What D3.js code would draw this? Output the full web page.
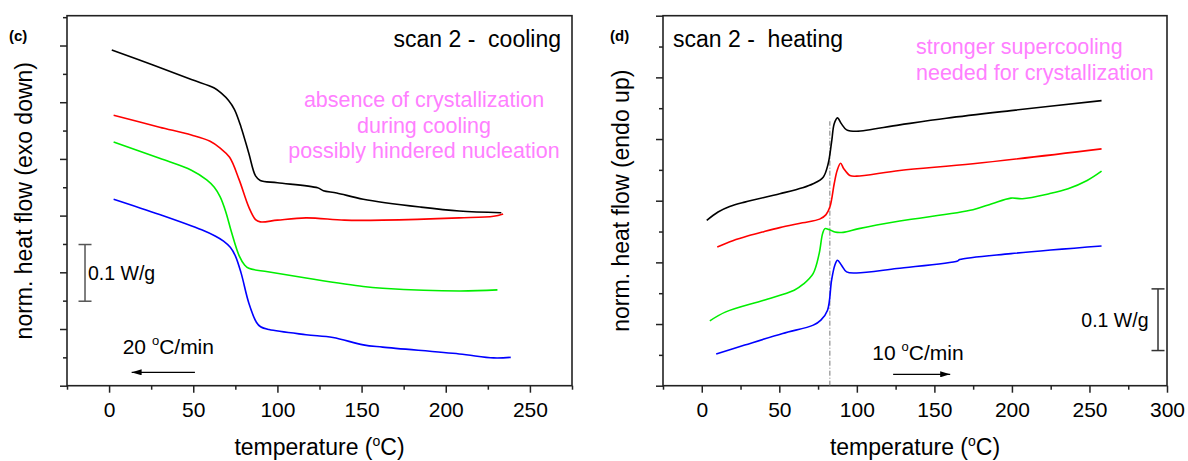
<!DOCTYPE html>
<html>
<head>
<meta charset="utf-8">
<script src="https://cdn.jsdelivr.net/npm/d3@7/dist/d3.min.js"></script>
<style>
  body { margin: 0; background: #fff; }
  svg { display: block; font-family: Arial, "Liberation Sans", sans-serif; }
</style>
</head>
<body>
<svg id="chart" width="1188" height="461"></svg>
<script>
// ---- (c) scan 2, cooling at 20 °C/min : [temperature °C, heat flow W/g] ----
const coolBlack = [[1.6,0.592],[26.1,0.5655],[48.9,0.540],[62.5,0.525],[67,0.515],[71,0.503],[74.5,0.487],[78.4,0.456],[83,0.410],[87,0.370],[89.8,0.362],[100,0.358],[123.9,0.349],[127.3,0.344],[135.2,0.340],[151,0.329],[185.2,0.315],[208,0.308],[233,0.305]];
const coolRed   = [[2.7,0.477],[30,0.456],[48.9,0.442],[60,0.431],[66,0.419],[71.6,0.403],[77.3,0.363],[83,0.315],[87,0.293],[89.8,0.289],[100,0.292],[117,0.296],[139.8,0.292],[162.5,0.292],[208,0.296],[228.4,0.299],[234.1,0.303]];
const coolGreen = [[2.7,0.430],[30,0.401],[48.9,0.380],[58,0.363],[62.5,0.350],[66,0.333],[69.3,0.307],[72.7,0.271],[77.3,0.229],[80.5,0.213],[83,0.207],[94.3,0.201],[117,0.190],[151,0.175],[162.5,0.172],[208,0.167],[230.7,0.169]];
const coolBlue  = [[2.7,0.329],[30,0.302],[55,0.275],[63,0.264],[68,0.255],[72,0.244],[75,0.229],[78.4,0.199],[83,0.146],[87.5,0.112],[90,0.104],[95,0.099],[117,0.090],[133,0.085],[151,0.072],[162.5,0.068],[208,0.056],[228.4,0.049],[238.6,0.050]];

// ---- (d) scan 2, heating at 10 °C/min ----
const heatBlack = [[3.2,0.268],[10.5,0.2816],[18,0.2905],[27.7,0.2977],[50.3,0.3113],[65,0.3210],[71.8,0.3275],[78.3,0.3382],[81.5,0.3599],[83.7,0.3948],[85.4,0.4246],[87.5,0.4343],[90.1,0.4246],[93.4,0.4149],[99.8,0.4126],[127.7,0.423],[157.7,0.4337],[199.4,0.4461],[257.8,0.4623]];
const heatRed   = [[10,0.2249],[20,0.2350],[30,0.2430],[40,0.2498],[50.3,0.2563],[65,0.2641],[76,0.2701],[80,0.2770],[82.6,0.2896],[85.4,0.3275],[87.3,0.349],[89.5,0.3608],[91.6,0.3518],[95.5,0.3409],[99.8,0.3398],[127.7,0.349],[174.9,0.3599],[257.8,0.3841]];
const heatGreen = [[5.2,0.1052],[15.5,0.1197],[40,0.1387],[59.6,0.1549],[65.4,0.1646],[71.8,0.1819],[75.7,0.2142],[77.9,0.2466],[79.4,0.2547],[82.2,0.2531],[85.8,0.2492],[91.2,0.2487],[101.3,0.2547],[127.7,0.267],[174.9,0.2854],[187.1,0.2951],[199.4,0.3042],[206.8,0.3032],[224,0.3113],[236.2,0.3194],[248.5,0.3328],[257.8,0.3479]];
const heatBlue  = [[9.3,0.0513],[27.7,0.0659],[52.2,0.0848],[71.9,0.0982],[76.8,0.1063],[81.1,0.1225],[83.7,0.171],[85.8,0.1953],[87.5,0.2034],[90.1,0.1953],[93.4,0.1845],[99.8,0.1828],[125.8,0.19],[165,0.2023],[166.3,0.2045],[199.4,0.2142],[257.8,0.2265]];

// reference temperature of the melting onset (dash-dot guide)
const meltGuide = [[82.6, 0], [82.6, 0.4288]];

// axis ticks
const coolXMajor = [0, 50, 100, 150, 200, 250];
const coolXMinor = [-25, 25, 75, 125, 175, 225, 275];
const heatXMajor = [0, 50, 100, 150, 200, 250, 300];
const heatXMinor = [-25, 25, 75, 125, 175, 225, 275];
const coolYMajor = [0, 0.1, 0.2, 0.3, 0.4, 0.5, 0.6];
const coolYMinor = [0.05, 0.15, 0.25, 0.35, 0.45, 0.55, 0.65];
const heatYMajor = [0, 0.1, 0.2, 0.3, 0.4, 0.5, 0.6];
const heatYMinor = [0.05, 0.15, 0.25, 0.35, 0.45, 0.55];

const seriesColors = ["#000000", "#ff0000", "#00ee00", "#0000ff"];
const scaleBarValue = 0.1; // W/g

const svg = d3.select("#chart");

// arrowhead for the scan-direction arrows
const defs = svg.append("defs");
defs.append("marker")
  .attr("id", "arrowHead")
  .attr("viewBox", "0 0 10 6")
  .attr("refX", 10).attr("refY", 3)
  .attr("markerWidth", 10).attr("markerHeight", 6)
  .attr("markerUnits", "userSpaceOnUse")
  .attr("orient", "auto")
  .append("path").attr("d", "M0,0 L10,3 L0,6 Z").attr("fill", "#000");

function drawPanel(cfg) {
  const x = d3.scaleLinear().domain(cfg.xDomain).range([cfg.left, cfg.right]);
  const y = d3.scaleLinear().domain(cfg.yDomain).range([cfg.bottom, cfg.top]);
  const g = svg.append("g");

  // x axis: major ticks with labels, minor ticks without
  const xMaj = g.append("g").attr("transform", `translate(0,${cfg.bottom})`)
    .call(d3.axisBottom(x).tickValues(cfg.xMajor).tickSize(7).tickPadding(9).tickFormat(d3.format("d")));
  g.append("g").attr("transform", `translate(0,${cfg.bottom})`)
    .call(d3.axisBottom(x).tickValues(cfg.xMinor).tickSize(4).tickFormat(""));
  // y axis: unlabeled ticks
  g.append("g").attr("transform", `translate(${cfg.left},0)`)
    .call(d3.axisLeft(y).tickValues(cfg.yMajor).tickSize(7).tickFormat(""));
  g.append("g").attr("transform", `translate(${cfg.left},0)`)
    .call(d3.axisLeft(y).tickValues(cfg.yMinor).tickSize(4).tickFormat(""));

  g.selectAll(".domain").remove();
  g.selectAll(".tick line").attr("stroke", "#222").attr("stroke-width", 1.5);
  xMaj.selectAll(".tick text").attr("font-size", 21).attr("fill", "#000")
    .attr("font-family", "Arial, 'Liberation Sans', sans-serif");

  // frame
  g.append("rect")
    .attr("x", cfg.left).attr("y", cfg.top)
    .attr("width", cfg.right - cfg.left).attr("height", cfg.bottom - cfg.top)
    .attr("fill", "none").attr("stroke", "#222").attr("stroke-width", 1.6);

  // axis titles
  const xt = g.append("text")
    .attr("x", (cfg.left + cfg.right) / 2).attr("y", 455)
    .attr("text-anchor", "middle").attr("font-size", 23);
  xt.append("tspan").text("temperature (");
  xt.append("tspan").attr("font-size", 14).attr("dy", -9).text("o");
  xt.append("tspan").attr("dy", 9).text("C)");

  g.append("text")
    .attr("transform", `translate(${cfg.yTitleX},${(cfg.top + cfg.bottom) / 2}) rotate(-90)`)
    .attr("text-anchor", "middle").attr("font-size", 23)
    .text(cfg.yTitle);

  // panel letter
  g.append("text").attr("x", cfg.letterX).attr("y", 41)
    .attr("font-size", 15).attr("font-weight", "bold").text(cfg.letter);

  // curves
  const line = d3.line().x(d => x(d[0])).y(d => y(d[1])).curve(d3.curveCatmullRom.alpha(0.5));
  if (cfg.guide) {
    g.append("path").datum(cfg.guide)
      .attr("d", d3.line().x(d => x(d[0])).y(d => y(d[1])))
      .attr("fill", "none").attr("stroke", "#777").attr("stroke-width", 1)
      .attr("stroke-dasharray", "5,2,1,2");
  }
  cfg.series.forEach((s, i) => {
    g.append("path").datum(s)
      .attr("d", line)
      .attr("fill", "none")
      .attr("stroke", seriesColors[i])
      .attr("stroke-width", 1.6)
      .attr("stroke-linejoin", "round");
  });

  // scale bar (0.1 W/g)
  const sb = cfg.scaleBar;
  const sbx = x(sb.t), sy0 = y(sb.v), sy1 = y(sb.v + scaleBarValue);
  const sbg = g.append("g").attr("stroke", sb.color).attr("stroke-width", 1.5);
  sbg.append("line").attr("x1", sbx).attr("x2", sbx).attr("y1", sy0).attr("y2", sy1);
  sbg.append("line").attr("x1", sbx - 6.5).attr("x2", sbx + 6.5).attr("y1", sy0).attr("y2", sy0);
  sbg.append("line").attr("x1", sbx - 6.5).attr("x2", sbx + 6.5).attr("y1", sy1).attr("y2", sy1);
  g.append("text")
    .attr("x", sbx + sb.dx).attr("y", (sy0 + sy1) / 2 + 7)
    .attr("text-anchor", sb.anchor).attr("font-size", 19.5)
    .text(scaleBarValue + " W/g");

  // heating/cooling rate label and arrow
  const r = cfg.rate;
  const rt = g.append("text").attr("x", r.textX).attr("y", r.textY).attr("font-size", 21);
  rt.append("tspan").text(r.value + " ");
  rt.append("tspan").attr("font-size", 13).attr("dy", -9).text("o");
  rt.append("tspan").attr("dy", 9).text("C/min");
  g.append("line")
    .attr("x1", x(r.from)).attr("x2", x(r.to))
    .attr("y1", r.arrowY).attr("y2", r.arrowY)
    .attr("stroke", "#000").attr("stroke-width", 1.2)
    .attr("marker-end", "url(#arrowHead)");

  // headline and comments
  g.append("text").attr("x", cfg.head.x).attr("y", 46.7)
    .attr("text-anchor", cfg.head.anchor).attr("font-size", 23)
    .style("white-space", "pre").attr("xml:space", "preserve")
    .text(cfg.head.text);
  const nt = g.append("text")
    .attr("text-anchor", cfg.note.anchor).attr("font-size", 21.5).attr("fill", "#ff80ff");
  cfg.note.lines.forEach((t, i) => {
    nt.append("tspan").attr("x", cfg.note.x).attr("y", cfg.note.y + i * cfg.note.step).text(t);
  });
}

drawPanel({
  left: 67, right: 572, top: 15.7, bottom: 385.7,
  xDomain: [-25, 275], yDomain: [0, 0.6526],
  xMajor: coolXMajor, xMinor: coolXMinor, yMajor: coolYMajor, yMinor: coolYMinor,
  yTitle: "norm. heat flow (exo down)", yTitleX: 31.5,
  letter: "(c)", letterX: 9,
  series: [coolBlack, coolRed, coolGreen, coolBlue],
  scaleBar: { t: -14.3, v: 0.149, color: "#555", dx: 3, anchor: "start" },
  rate: { value: 20, textX: 122.7, textY: 354, from: 51, to: 13.4, arrowY: 372.3 },
  head: { text: "scan 2 -  cooling", x: 561, anchor: "end" },
  note: { lines: ["absence of crystallization", "during cooling", "possibly hindered nucleation"],
          x: 424, y: 107, step: 25.7, anchor: "middle" }
});

drawPanel({
  left: 663, right: 1167, top: 15.7, bottom: 385.7,
  xDomain: [-25, 300], yDomain: [0, 0.6],
  xMajor: heatXMajor, xMinor: heatXMinor, yMajor: heatYMajor, yMinor: heatYMinor,
  yTitle: "norm. heat flow (endo up)", yTitleX: 628.5,
  letter: "(d)", letterX: 610,
  series: [heatBlack, heatRed, heatGreen, heatBlue],
  guide: meltGuide,
  scaleBar: { t: 294.2, v: 0.057, color: "#333", dx: -9.5, anchor: "end" },
  rate: { value: 10, textX: 872.3, textY: 360, from: 123.4, to: 160.2, arrowY: 374.3 },
  head: { text: "scan 2 -  heating", x: 673, anchor: "start" },
  note: { lines: ["stronger supercooling", "needed for crystallization"],
          x: 916, y: 54, step: 26, anchor: "start" }
});
</script>
</body>
</html>
